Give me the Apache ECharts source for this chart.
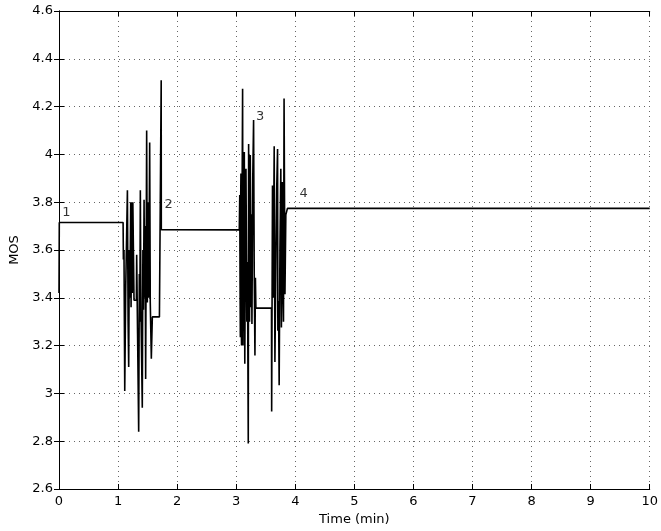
<!DOCTYPE html>
<html>
    <head>
        <meta charset="UTF-8">
        <style>
            body { margin: 0; background: #fff; }
        </style>
    </head>
    <body>
        <div id="mosChart" style="width: 661px;height:531px;"></div>
        <script src="https://cdn.jsdelivr.net/npm/echarts/dist/echarts.min.js"></script>
        <script type="text/javascript">
            // 时间 (min)
            var timePoints = [
                0, 0.005, 1.085,
                1.09, 1.10, 1.113, 1.13, 1.158, 1.17, 1.18, 1.19, 1.20, 1.214, 1.22, 1.23, 1.24, 1.25,
                1.265, 1.27, 1.31, 1.315, 1.33, 1.349, 1.36, 1.368, 1.377, 1.385, 1.39, 1.41, 1.42, 1.43,
                1.44, 1.45, 1.458, 1.467, 1.484, 1.495, 1.51, 1.52, 1.535, 1.545, 1.563, 1.58, 1.70,
                1.73, 1.732,
                3.052, 3.06, 3.065, 3.07, 3.075, 3.08, 3.085, 3.09, 3.10, 3.108, 3.115, 3.125, 3.137,
                3.145, 3.155, 3.165, 3.18, 3.19, 3.204, 3.21, 3.218, 3.225, 3.238, 3.25, 3.258, 3.266,
                3.28, 3.294, 3.305, 3.317, 3.325, 3.333, 3.597, 3.60, 3.614, 3.625, 3.643, 3.655, 3.67,
                3.685, 3.70, 3.705, 3.716, 3.727, 3.74, 3.755, 3.765, 3.78, 3.79, 3.80, 3.81, 3.825,
                3.84, 3.867, 10
            ];
            // MOS 值
            var mosPoints = [
                3.42, 3.715, 3.715,
                3.56, 3.60, 3.01, 3.45, 3.85, 3.30, 3.11, 3.60, 3.40, 3.80, 3.36, 3.80, 3.42, 3.80,
                3.80, 3.39, 3.39, 3.58, 3.25, 2.84, 3.50, 3.30, 3.85, 3.45, 3.30, 2.94, 3.60, 3.35,
                3.81, 3.40, 3.70, 3.06, 4.10, 3.38, 3.80, 3.40, 4.05, 3.38, 3.145, 3.32, 3.32,
                4.31, 3.685,
                3.684, 3.83, 3.46, 3.235, 3.80, 3.92, 3.30, 3.20, 3.85, 4.275, 3.20, 3.70, 4.01,
                3.124, 3.60, 3.94, 3.30, 3.55, 2.79, 4.044, 3.40, 3.30, 3.997, 3.36, 3.75, 3.29,
                3.90, 4.144, 3.50, 3.159, 3.484, 3.357, 3.357, 2.924, 3.87, 3.40, 4.034, 3.131, 3.50,
                3.85, 4.023, 3.262, 3.387, 3.034, 3.60, 3.94, 3.276, 3.885, 3.45, 3.30, 4.234, 3.415,
                3.747, 3.774, 3.774
            ];
            // 标注 1-4
            var noteLabels = ['1', '2', '3', '4'];
            var noteTimes = [0.126, 1.855, 3.406, 4.14];
            var noteMos = [3.758, 3.79, 4.158, 3.836];

            var xTickLabels = ['0', '1', '2', '3', '4', '5', '6', '7', '8', '9', '10'];

            var lineData = [];
            for (let i = 0; i < timePoints.length; i++) {
                lineData.push([timePoints[i], mosPoints[i]]);
            }
            var noteData = [];
            for (let i = 0; i < noteLabels.length; i++) {
                noteData.push({name: noteLabels[i], value: [noteTimes[i], noteMos[i]]});
            }

            var font = 'DejaVu Sans';
            var gridDots = {show: true, lineStyle: {color: '#666', width: 1, type: [1, 4]}};

            let mosChart = echarts.init(document.getElementById('mosChart'));
            let option = {
                animation: false,
                textStyle: {fontFamily: font},
                grid: {left: 59, right: 9, top: 11, bottom: 38},
                xAxis: [{
                    type: 'value',
                    min: 0,
                    max: 10,
                    interval: 1,
                    name: 'Time (min)',
                    nameLocation: 'middle',
                    nameGap: 24,
                    nameTextStyle: {color: '#000', fontSize: 13, fontFamily: font},
                    axisLine: {lineStyle: {color: '#000', width: 1}},
                    axisTick: {inside: true, length: 5, lineStyle: {color: '#000'}},
                    axisLabel: {
                        color: '#000', fontSize: 13, margin: 6, fontFamily: font,
                        formatter: function (v) { return xTickLabels[Math.round(v)]; }
                    },
                    splitLine: gridDots
                }, {
                    type: 'value',
                    position: 'top',
                    min: 0,
                    max: 10,
                    interval: 1,
                    axisLine: {lineStyle: {color: '#000', width: 1}},
                    axisTick: {inside: true, length: 5, lineStyle: {color: '#000'}},
                    axisLabel: {show: false},
                    splitLine: {show: false}
                }],
                yAxis: [{
                    type: 'value',
                    min: 2.6,
                    max: 4.6,
                    interval: 0.2,
                    name: 'MOS',
                    nameLocation: 'middle',
                    nameGap: 38,
                    nameTextStyle: {color: '#000', fontSize: 13, fontFamily: font},
                    axisLine: {show: true, lineStyle: {color: '#000', width: 1}},
                    axisTick: {show: true, inside: true, length: 5, lineStyle: {color: '#000'}},
                    axisLabel: {color: '#000', fontSize: 13, margin: 6, fontFamily: font},
                    splitLine: gridDots
                }, {
                    type: 'value',
                    position: 'right',
                    min: 2.6,
                    max: 4.6,
                    interval: 0.2,
                    axisLine: {show: true, lineStyle: {color: '#000', width: 1}},
                    axisTick: {show: true, inside: true, length: 5, lineStyle: {color: '#000'}},
                    axisLabel: {show: false},
                    splitLine: {show: false}
                }],
                series: [{
                    type: 'line',
                    data: lineData,
                    symbol: 'none',
                    lineStyle: {color: '#000', width: 1.6},
                    z: 3
                }, {
                    type: 'scatter',
                    data: noteData,
                    symbolSize: 0,
                    label: {
                        show: true,
                        position: 'inside',
                        formatter: '{b}',
                        color: '#000',
                        fontSize: 13,
                        fontFamily: font
                    },
                    z: 4
                }]
            };
            mosChart.setOption(option);
        </script>
    </body>
</html>
